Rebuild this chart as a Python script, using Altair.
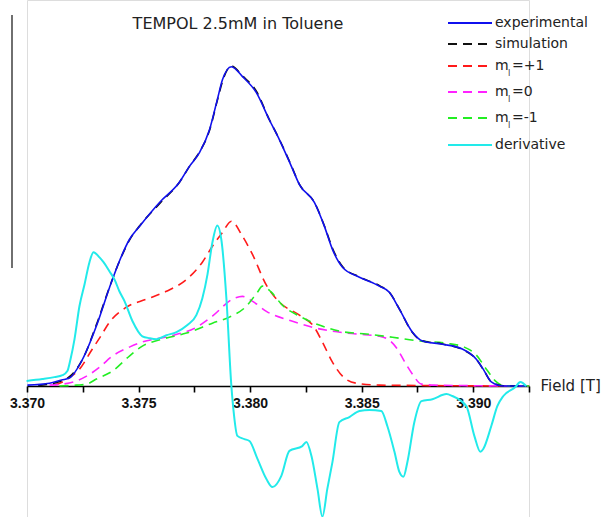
import altair as alt
import pandas as pd

# ---------------- data ----------------
exp_field = [3.37002, 3.37101, 3.37155, 3.37190, 3.37249, 3.37311, 3.37370, 3.37414, 3.37459, 3.37504,
             3.37594, 3.37683, 3.37728, 3.37773, 3.37818, 3.37853, 3.37876, 3.37916, 3.37966, 3.38028,
             3.38086, 3.38131, 3.38185, 3.38221, 3.38288, 3.38333, 3.38369, 3.38414, 3.38490, 3.38579,
             3.38624, 3.38669, 3.38727, 3.38772, 3.38862, 3.38951, 3.39014, 3.39050, 3.39081, 3.39135,
             3.39238]
exp_int = [0.003, 0.009, 0.019, 0.025, 0.084, 0.188, 0.309, 0.391, 0.459, 0.500,
           0.575, 0.638, 0.688, 0.731, 0.803, 0.897, 0.959, 1.000, 0.969, 0.919,
           0.834, 0.772, 0.688, 0.631, 0.575, 0.500, 0.428, 0.372, 0.341, 0.313,
           0.294, 0.241, 0.169, 0.141, 0.131, 0.116, 0.084, 0.047, 0.013, 0.000,
           0.000]

sim_field = [3.37050, 3.37150, 3.37200, 3.37250, 3.37310, 3.37370, 3.37415, 3.37460, 3.37505, 3.37595,
             3.37685, 3.37730, 3.37775, 3.37820, 3.37855, 3.37880, 3.37916, 3.37965, 3.38030, 3.38085,
             3.38130, 3.38185, 3.38220, 3.38290, 3.38335, 3.38370, 3.38415, 3.38490, 3.38580, 3.38625,
             3.38670, 3.38725, 3.38770, 3.38860, 3.38950, 3.39015, 3.39050, 3.39080, 3.39135, 3.39240]
sim_int = [0.002, 0.015, 0.035, 0.085, 0.190, 0.310, 0.392, 0.458, 0.502, 0.572,
           0.640, 0.690, 0.735, 0.805, 0.900, 0.962, 1.003, 0.972, 0.921, 0.836,
           0.774, 0.690, 0.633, 0.573, 0.498, 0.430, 0.374, 0.342, 0.314, 0.293,
           0.240, 0.170, 0.142, 0.132, 0.115, 0.083, 0.046, 0.014, 0.001, 0.000]

p1_field = [3.37123, 3.37159, 3.37199, 3.37235, 3.37293, 3.37325, 3.37370, 3.37446, 3.37535, 3.37625,
            3.37715, 3.37786, 3.37831, 3.37876, 3.37916, 3.37966, 3.38010, 3.38073, 3.38131, 3.38221,
            3.38288, 3.38324, 3.38369, 3.38414, 3.38476, 3.38579, 3.39251]
p1_int = [0.003, 0.013, 0.031, 0.053, 0.116, 0.150, 0.200, 0.247, 0.272, 0.297,
          0.334, 0.388, 0.438, 0.481, 0.516, 0.469, 0.413, 0.316, 0.263, 0.222,
          0.184, 0.138, 0.075, 0.031, 0.009, 0.003, 0.000]

m0_field = [3.37101, 3.37159, 3.37222, 3.37267, 3.37325, 3.37383, 3.37459, 3.37517, 3.37638, 3.37759,
            3.37831, 3.37921, 3.37966, 3.38010, 3.38073, 3.38190, 3.38279, 3.38369, 3.38476, 3.38579,
            3.38624, 3.38660, 3.38691, 3.38727, 3.38768, 3.38826, 3.39251]
m0_int = [0.003, 0.006, 0.016, 0.031, 0.059, 0.094, 0.122, 0.138, 0.156, 0.184,
          0.219, 0.272, 0.281, 0.266, 0.234, 0.203, 0.184, 0.172, 0.163, 0.156,
          0.144, 0.116, 0.078, 0.038, 0.006, 0.003, 0.000]

n1_field = [3.37146, 3.37222, 3.37267, 3.37311, 3.37383, 3.37459, 3.37517, 3.37607, 3.37715, 3.37831,
            3.37907, 3.37983, 3.38033, 3.38055, 3.38095, 3.38145, 3.38221, 3.38310, 3.38400, 3.38521,
            3.38638, 3.38759, 3.38880, 3.38960, 3.39014, 3.39059, 3.39104, 3.39148, 3.39251]
n1_int = [0.000, 0.003, 0.006, 0.022, 0.047, 0.094, 0.125, 0.147, 0.166, 0.197,
          0.216, 0.250, 0.294, 0.313, 0.294, 0.253, 0.219, 0.191, 0.172, 0.163,
          0.153, 0.141, 0.134, 0.122, 0.097, 0.053, 0.013, 0.000, 0.000]

der_field = [3.36998, 3.37069, 3.37123, 3.37159, 3.37181, 3.37195, 3.37213, 3.37235, 3.37258, 3.37280,
             3.37298, 3.37325, 3.37343, 3.37370, 3.37392, 3.37414, 3.37437, 3.37473, 3.37517, 3.37549,
             3.37580, 3.37625, 3.37670, 3.37719, 3.37759, 3.37786, 3.37809, 3.37831, 3.37853, 3.37871,
             3.37894, 3.37916, 3.37925, 3.37943, 3.37974, 3.37997, 3.38033, 3.38073, 3.38100, 3.38140,
             3.38176, 3.38234, 3.38252, 3.38275, 3.38302, 3.38324, 3.38346, 3.38369, 3.38400, 3.38445,
             3.38490, 3.38535, 3.38588, 3.38615, 3.38647, 3.38669, 3.38687, 3.38705, 3.38736, 3.38768,
             3.38817, 3.38880, 3.38906, 3.38969, 3.39005, 3.39032, 3.39045, 3.39081, 3.39108, 3.39135,
             3.39189, 3.39211, 3.39238]
der_int = [0.016, 0.022, 0.028, 0.034, 0.047, 0.084, 0.147, 0.250, 0.319, 0.388,
           0.419, 0.403, 0.388, 0.359, 0.334, 0.297, 0.266, 0.203, 0.156, 0.150,
           0.147, 0.159, 0.169, 0.191, 0.222, 0.275, 0.350, 0.450, 0.503, 0.459,
           0.272, 0.000, -0.072, -0.156, -0.166, -0.172, -0.228, -0.291, -0.316, -0.281,
           -0.203, -0.188, -0.175, -0.219, -0.322, -0.409, -0.322, -0.238, -0.113, -0.097,
           -0.078, -0.075, -0.078, -0.125, -0.206, -0.269, -0.284, -0.238, -0.113, -0.047,
           -0.041, -0.025, -0.031, -0.063, -0.156, -0.206, -0.197, -0.125, -0.063, -0.031,
           -0.003, 0.013, 0.000]

tick_values = [3.370, 3.3725, 3.375, 3.3775, 3.380, 3.3825, 3.385, 3.3875, 3.390, 3.3925]

title_text = "TEMPOL 2.5mM in Toluene"
legend_labels = ["experimental", "simulation", "m", "m", "m", "derivative"]
legend_suffix = ["", "", "=+1", "=0", "=-1", ""]

# ---------------- styling ----------------
FONT = "DejaVu Sans"
LABEL_FONT = "Liberation Sans"
W, H = 502, 517
X_DOMAIN = [3.370, 3.3925]
Y_DOMAIN = [-0.41, 1.209]
DASH = [9, 6]

x_enc = alt.X(
    "field:Q",
    scale=alt.Scale(domain=X_DOMAIN, nice=False, zero=False),
    axis=alt.Axis(
        values=tick_values,
        labelExpr="round(datum.value*2000) % 10 == 0 ? format(datum.value, '.3f') : ''",
        offset=-131,
        grid=False,
        tickSize=6,
        tickWidth=1.6,
        tickColor="black",
        domainColor="black",
        domainWidth=1.6,
        labelFont=LABEL_FONT,
        labelFontWeight="bold",
        labelFontSize=14,
        labelColor="#111111",
        labelPadding=4,
        labelFlush=False,
        labelOverlap=False,
        title="Field [T]",
        titleFont=FONT,
        titleFontSize=15,
        titleFontWeight="normal",
        titleColor="#222222",
        titleX=513,
        titleY=-1,
        titleAlign="left",
        titleBaseline="middle",
        titleAngle=0,
    ),
)
y_enc = alt.Y("intensity:Q", scale=alt.Scale(domain=Y_DOMAIN, nice=False, zero=False), axis=None)


def series_line(fields, values, color, dashed, width=1.6):
    df = pd.DataFrame({"field": fields, "intensity": values})
    props = dict(color=color, strokeWidth=width, interpolate="monotone", clip=False)
    if dashed:
        props["strokeDash"] = DASH
    return alt.Chart(df).mark_line(**props).encode(x=x_enc, y=y_enc)


one = pd.DataFrame({"k": [0]})

layers = [
    series_line(p1_field, p1_int, "#ff1a1a", True),
    series_line(m0_field, m0_int, "#ff22ff", True),
    series_line(n1_field, n1_int, "#22ee22", True),
    series_line(sim_field, sim_int, "#111111", True),
    series_line(exp_field, exp_int, "#1010ee", False),
    series_line(der_field, der_int, "#22eaea", False, 2.0),
]

# left vertical line (scale bar)
layers.append(
    alt.Chart(one).mark_rule(color="#222222", strokeWidth=1.3).encode(
        x=alt.value(-15), y=alt.value(15), y2=alt.value(268)
    )
)

# chart title
layers.append(
    alt.Chart(one).mark_text(font=FONT, fontSize=16, color="#222222", align="center", baseline="middle").encode(
        x=alt.value(211), y=alt.value(24), text=alt.value(title_text)
    )
)

# manual legend
leg_rows = [23, 44, 66, 92, 118, 145]
leg_colors = ["#1010ee", "#111111", "#ff1a1a", "#ff22ff", "#22ee22", "#22eaea"]
leg_dashed = [False, True, True, True, True, False]
for i in range(6):
    props = dict(color=leg_colors[i], strokeWidth=2)
    if leg_dashed[i]:
        props["strokeDash"] = DASH
    layers.append(
        alt.Chart(one).mark_rule(**props).encode(
            x=alt.value(421), x2=alt.value(465), y=alt.value(leg_rows[i])
        )
    )
    layers.append(
        alt.Chart(one).mark_text(font=FONT, fontSize=14, color="#222222", align="left", baseline="middle").encode(
            x=alt.value(468), y=alt.value(leg_rows[i]), text=alt.value(legend_labels[i])
        )
    )
    if legend_suffix[i]:
        layers.append(
            alt.Chart(one).mark_text(font=FONT, fontSize=8, color="#444444", align="left", baseline="middle").encode(
                x=alt.value(481), y=alt.value(leg_rows[i] + 8), text=alt.value("I")
            )
        )
        layers.append(
            alt.Chart(one).mark_text(font=FONT, fontSize=14, color="#222222", align="left", baseline="middle").encode(
                x=alt.value(485), y=alt.value(leg_rows[i]), text=alt.value(legend_suffix[i])
            )
        )

chart = (
    alt.layer(*layers)
    .properties(
        width=W,
        height=H,
        autosize=alt.AutoSizeParams(type="none"),
        padding={"left": 27, "top": 0, "right": 77, "bottom": 0},
    )
    .configure_view(stroke=None)
    .configure(background="white")
)

chart.save("out.html", embed_options={"renderer": "svg", "actions": False})
